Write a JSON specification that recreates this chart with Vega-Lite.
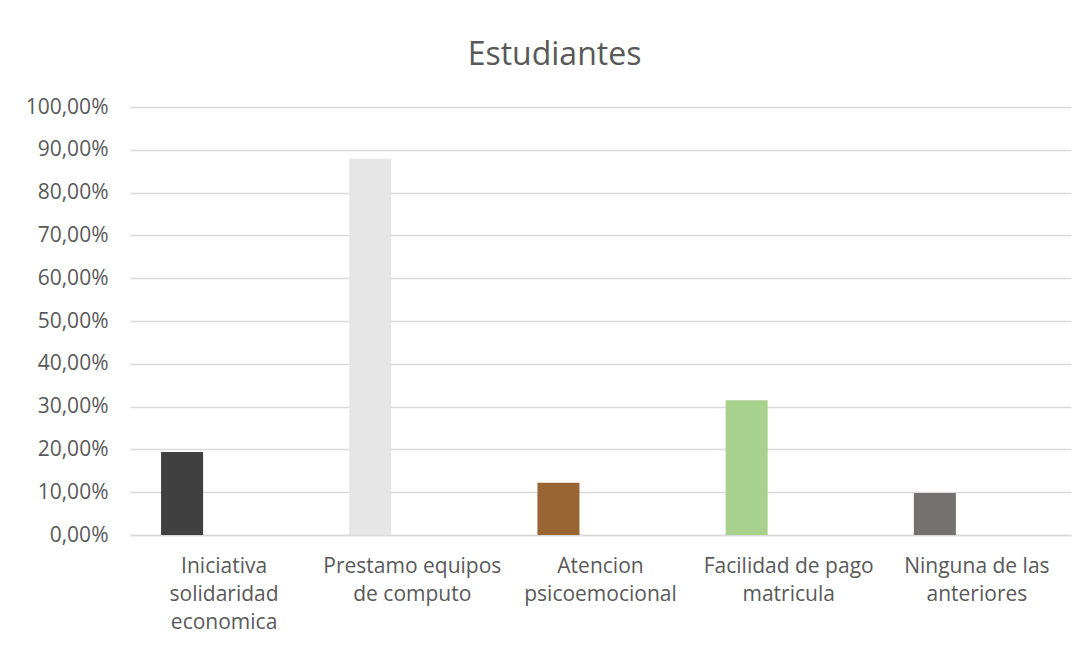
{
  "$schema": "https://vega.github.io/schema/vega-lite/v6.json",
  "width": 941,
  "height": 428,
  "autosize": {"type": "none"},
  "padding": {"left": 130, "top": 107, "right": 17, "bottom": 115},
  "background": "white",
  "config": {
    "locale": {"number": {"decimal": ",", "thousands": ".", "grouping": [3], "currency": ["", " €"]}},
    "view": {"stroke": null},
    "font": "Open Sans"
  },
  "title": {
    "text": "Estudiantes",
    "font": "Open Sans",
    "fontSize": 32,
    "fontWeight": "normal",
    "color": "#595959",
    "anchor": "middle",
    "dx": -46,
    "baseline": "alphabetic",
    "offset": -1
  },
  "data": {
    "values": [
      {"categoria": "Iniciativa solidaridad economica", "serie": "Estudiantes", "porcentaje": 0.194},
      {"categoria": "Prestamo equipos de computo", "serie": "Estudiantes", "porcentaje": 0.879},
      {"categoria": "Atencion psicoemocional", "serie": "Estudiantes", "porcentaje": 0.122},
      {"categoria": "Facilidad de pago matricula", "serie": "Estudiantes", "porcentaje": 0.315},
      {"categoria": "Ninguna de las anteriores", "serie": "Estudiantes", "porcentaje": 0.098}
    ]
  },
  "mark": {"type": "bar"},
  "encoding": {
    "x": {
      "field": "categoria",
      "type": "nominal",
      "sort": null,
      "scale": {"paddingInner": 0.33, "paddingOuter": 0.165},
      "axis": {
        "title": null,
        "labelAngle": 0,
        "labelFont": "Open Sans",
        "labelFontSize": 21,
        "labelColor": "#595959",
        "labelLineHeight": 28,
        "labelPadding": 20,
        "labelBaseline": "top",
        "ticks": false,
        "domain": true,
        "domainColor": "#d9d9d9",
        "domainWidth": 1.5,
        "labelExpr": "datum.label == 'Iniciativa solidaridad economica' ? ['Iniciativa', 'solidaridad', 'economica'] : datum.label == 'Prestamo equipos de computo' ? ['Prestamo equipos', 'de computo'] : datum.label == 'Atencion psicoemocional' ? ['Atencion', 'psicoemocional'] : datum.label == 'Facilidad de pago matricula' ? ['Facilidad de pago', 'matricula'] : ['Ninguna de las', 'anteriores']"
      }
    },
    "xOffset": {
      "field": "serie",
      "type": "nominal",
      "scale": {"domain": ["Estudiantes", "Serie 2", "Serie 3"], "paddingInner": 0, "paddingOuter": 0}
    },
    "y": {
      "field": "porcentaje",
      "type": "quantitative",
      "scale": {"domain": [0, 1], "nice": false},
      "axis": {
        "title": null,
        "format": ".2%",
        "values": [0, 0.1, 0.2, 0.3, 0.4, 0.5, 0.6, 0.7, 0.8, 0.9, 1],
        "labelFont": "Open Sans",
        "labelFontSize": 21,
        "labelColor": "#595959",
        "labelPadding": 22,
        "ticks": false,
        "domain": false,
        "grid": true,
        "gridColor": "#d9d9d9",
        "gridWidth": 1.5
      }
    },
    "color": {
      "field": "categoria",
      "type": "nominal",
      "scale": {
        "domain": ["Iniciativa solidaridad economica", "Prestamo equipos de computo", "Atencion psicoemocional", "Facilidad de pago matricula", "Ninguna de las anteriores"],
        "range": ["#404040", "#e6e6e6", "#996633", "#a9d18e", "#767171"]
      },
      "legend": null
    }
  }
}
